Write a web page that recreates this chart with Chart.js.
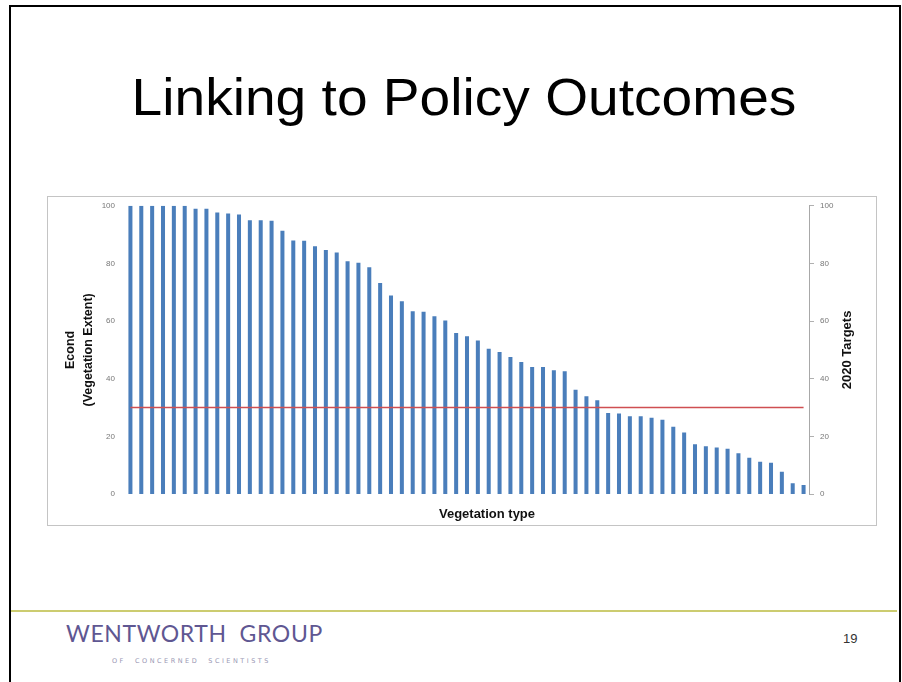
<!DOCTYPE html>
<html>
<head>
<meta charset="utf-8">
<title>Linking to Policy Outcomes</title>
<script src="https://cdn.jsdelivr.net/npm/chart.js@4"></script>
<style>
    html, body {
        margin: 0;
        padding: 0;
        background: #ffffff;
        width: 902px;
        height: 682px;
        overflow: hidden;
        position: relative;
    }

    .slide-frame {
        position: absolute;
        left: 9px;
        top: 5px;
        width: 888px;
        height: 700px;
        border: 2px solid #000;
        border-bottom: none;
    }

    .slide-title {
        position: absolute;
        left: 0;
        width: 928px;
        top: 71px;
        text-align: center;
        font-family: "Liberation Sans", Arial, sans-serif;
        font-size: 52px;
        line-height: 52px;
        color: #000;
        white-space: nowrap;
        transform: scaleX(1.06);
        transform-origin: 464px 0;
    }

    .chart-box {
        position: absolute;
        left: 47px;
        top: 196px;
        width: 830px;
        height: 330px;
        box-sizing: border-box;
        border: 1px solid #c4c4c4;
    }

    .chart-box canvas {
        display: block;
        position: absolute;
        left: 0;
        top: -6px;
    }

    .footer-rule {
        position: absolute;
        left: 11px;
        top: 610px;
        width: 886px;
        height: 2px;
        background: #cccc70;
    }

    .brand {
        position: absolute;
        left: 66px;
        top: 620px;
        font-family: Lato, "Open Sans", sans-serif;
        font-size: 23px;
        line-height: 26px;
        letter-spacing: 0.6px;
        color: #5f5792;
        white-space: pre;
    }

    .brand-sub {
        position: absolute;
        left: 112px;
        top: 657px;
        font-family: "DejaVu Sans", sans-serif;
        font-size: 6.5px;
        letter-spacing: 2.5px;
        color: #9a98b4;
        white-space: pre;
    }

    .page-number {
        position: absolute;
        left: 843px;
        top: 631px;
        font-family: "Liberation Sans", Arial, sans-serif;
        font-size: 13px;
        color: #333;
    }
</style>
</head>
<body>

<div class="slide-frame"></div>

<div class="slide-title">Linking to Policy Outcomes</div>

<div class="chart-box">
    <canvas id="econdChart" width="828" height="334"></canvas>
</div>

<div class="footer-rule"></div>
<div class="brand">WENTWORTH  GROUP</div>
<div class="brand-sub">OF  CONCERNED  SCIENTISTS</div>
<div class="page-number">19</div>

<script>
/* ==========================================
   DATA
========================================== */

// Econd per vegetation type, sorted high to low
const econdValues = [
    100, 100, 100, 100, 100, 100, 99, 99, 97.7, 97.3,
    97, 95, 95, 94.8, 91.3, 88, 87.9, 86, 84.7, 83.8,
    80.8, 80.2, 78.7, 73.2, 68.9, 66.9, 63.4, 63.2, 61.7, 60.2,
    55.9, 54.7, 53.3, 50.4, 49.3, 47.5, 45.8, 44.1, 44.1, 42.9,
    42.6, 36.2, 33.9, 32.5, 28.1, 27.9, 27, 27, 26.5, 25.8,
    23.3, 21.3, 17.3, 16.6, 16.1, 15.7, 14.1, 12.6, 11.2, 10.8,
    7.7, 3.7, 3.1
];

// 2020 target level for each vegetation type
const targetValues = [
    30, 30, 30, 30, 30, 30, 30, 30, 30, 30,
    30, 30, 30, 30, 30, 30, 30, 30, 30, 30,
    30, 30, 30, 30, 30, 30, 30, 30, 30, 30,
    30, 30, 30, 30, 30, 30, 30, 30, 30, 30,
    30, 30, 30, 30, 30, 30, 30, 30, 30, 30,
    30, 30, 30, 30, 30, 30, 30, 30, 30, 30,
    30, 30, 30
];

const vegetationTypes = econdValues.map((_, i) => "Type " + (i + 1));

const yTicks = [0, 20, 40, 60, 80, 100];

const leftTitle = ["Econd", "(Vegetation Extent)"];
const rightTitle = "2020 Targets";
const bottomTitle = "Vegetation type";

const titleFont = "'Liberation Sans', Arial, sans-serif";

/* ==========================================
   EXTRA AXIS TITLES
========================================== */

// right title reads bottom-to-top, so it is drawn here instead of by the scale
const axisTitles = {
    id: "axisTitles",
    afterDraw(chart) {
        const { ctx, chartArea } = chart;
        ctx.save();
        ctx.fillStyle = "#111";
        ctx.font = "bold 13px " + titleFont;
        ctx.textAlign = "center";
        ctx.textBaseline = "middle";

        ctx.fillText(bottomTitle, 439, chartArea.bottom + 20);

        ctx.translate(799, (chartArea.top + chartArea.bottom) / 2);
        ctx.rotate(-Math.PI / 2);
        ctx.fillText(rightTitle, 0, 0);
        ctx.restore();
    }
};

/* ==========================================
   CHART
========================================== */

function initializeEcondChart() {

    const canvas = document.getElementById("econdChart");

    if (!canvas) return;

    const tickFont = {
        family: titleFont,
        size: 8
    };

    new Chart(canvas, {

        data: {
            labels: vegetationTypes,

            datasets: [
                {
                    type: "line",
                    label: "2020 Targets",
                    data: targetValues,
                    yAxisID: "y2",
                    borderColor: "#cf4f52",
                    borderWidth: 1.5,
                    pointRadius: 0,
                    order: 1
                },
                {
                    type: "bar",
                    label: "Econd",
                    data: econdValues,
                    yAxisID: "y",
                    backgroundColor: "#4a7ebb",
                    categoryPercentage: 1,
                    barPercentage: 0.37,
                    order: 2
                }
            ]
        },

        options: {
            responsive: false,
            animation: false,

            layout: {
                padding: { top: 8, left: 0, right: 0, bottom: 0 }
            },

            plugins: {
                legend: { display: false },
                tooltip: { enabled: false }
            },

            scales: {

                x: {
                    grid: { display: false, drawTicks: false },
                    border: { display: false },
                    ticks: { display: false },
                    afterFit(scale) { scale.height = 31; }
                },

                y: {
                    position: "left",
                    min: 0,
                    max: 100,
                    afterBuildTicks(scale) {
                        scale.ticks = yTicks.map(v => ({ value: v }));
                    },
                    grid: { display: false, drawTicks: false },
                    border: { display: false },
                    ticks: {
                        font: tickFont,
                        color: "#777",
                        padding: 10
                    },
                    title: {
                        display: true,
                        text: leftTitle,
                        color: "#111",
                        font: {
                            family: titleFont,
                            size: 12.5,
                            weight: "bold",
                            lineHeight: 1.4
                        },
                        padding: { top: 14, bottom: 0 }
                    },
                    afterFit(scale) { scale.width = 77; }
                },

                y2: {
                    position: "right",
                    min: 0,
                    max: 100,
                    afterBuildTicks(scale) {
                        scale.ticks = yTicks.map(v => ({ value: v }));
                    },
                    grid: {
                        display: true,
                        drawOnChartArea: false,
                        drawTicks: true,
                        tickLength: 5,
                        color: "#b0b0b0"
                    },
                    border: { display: true, color: "#a8a8a8" },
                    ticks: {
                        font: tickFont,
                        color: "#777",
                        padding: 6
                    },
                    afterFit(scale) { scale.width = 67; }
                }
            }
        },

        plugins: [axisTitles]
    });

}

document.addEventListener("DOMContentLoaded", () => {
    initializeEcondChart();
});
</script>
</body>
</html>
